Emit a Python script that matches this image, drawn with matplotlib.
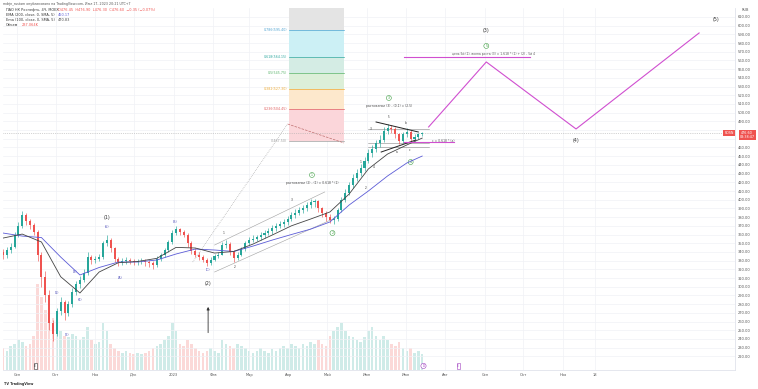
import numpy as np
import pandas as pd
import matplotlib
matplotlib.use("Agg")
import matplotlib.pyplot as plt
import matplotlib.dates as mdates

# ---- candles: 3-day bars from 2022-08-21 ----
start_date = "2022-08-21"
bar_days = 3
first_open = 340
closes = [336, 342, 346, 360, 370, 382, 375, 371, 363, 336,
          311, 290, 258, 246, 272, 282, 270, 280, 294, 303,
          308, 316, 334, 331, 332, 334, 350, 354, 344, 332,
          328, 329, 331, 329, 328, 329, 330, 328, 327, 325,
          332, 336, 342, 351, 362, 366, 363, 360, 350, 341,
          337, 334, 331, 327, 331, 335, 337, 348, 349, 340,
          333, 337, 343, 350, 354, 355, 357, 359, 362, 364,
          367, 370, 372, 374, 378, 382, 385, 388, 390, 394,
          397, 398, 390, 385, 380, 377, 378, 388, 400, 408,
          417, 425, 431, 436, 445, 454, 458, 465, 469, 479,
          482, 481, 475, 467, 475, 478, 470, 472, 475, 476.6]
highs = [343, 346, 350, 363, 374, 387, 385, 378, 373, 365,
         340, 318, 296, 262, 276, 288, 285, 284, 298, 307,
         312, 320, 340, 337, 335, 338, 353, 360, 356, 346,
         334, 333, 334, 333, 332, 332, 333, 332, 331, 329,
         335, 339, 345, 354, 365, 370, 368, 365, 362, 352,
         344, 340, 336, 333, 334, 338, 340, 351, 354, 351,
         342, 340, 346, 352, 357, 359, 360, 363, 365, 368,
         371, 373, 376, 378, 381, 386, 389, 392, 394, 397,
         401, 401, 400, 392, 387, 383, 381, 391, 403, 412,
         420, 429, 435, 441, 449, 458, 463, 469, 474, 483,
         487, 486, 483, 477, 478, 482, 480, 475, 477, 478]
lows = [332, 333, 339, 344, 357, 368, 371, 366, 359, 330,
        300, 282, 250, 238, 243, 268, 262, 266, 277, 290,
        299, 305, 314, 326, 327, 329, 332, 347, 340, 328,
        324, 325, 326, 326, 325, 325, 326, 324, 323, 320,
        323, 330, 334, 340, 349, 359, 360, 357, 346, 338,
        334, 331, 328, 324, 325, 329, 333, 336, 345, 337,
        328, 331, 335, 341, 348, 351, 352, 354, 356, 359,
        361, 364, 367, 369, 371, 375, 379, 382, 385, 387,
        391, 392, 386, 380, 376, 373, 372, 376, 386, 397,
        405, 414, 421, 427, 433, 442, 449, 455, 460, 466,
        476, 477, 471, 464, 465, 472, 467, 468, 470, 473]
volumes = [25, 22, 28, 30, 35, 32, 28, 30, 40, 100,
           85, 70, 75, 60, 55, 45, 40, 38, 42, 40,
           35, 38, 50, 35, 30, 32, 55, 45, 30, 25,
           22, 20, 22, 20, 18, 20, 18, 20, 22, 25,
           28, 30, 35, 40, 55, 45, 30, 28, 35, 30,
           25, 22, 20, 22, 25, 22, 20, 35, 30, 28,
           25, 30, 28, 25, 22, 20, 22, 25, 22, 20,
           24, 22, 25, 28, 25, 30, 28, 25, 30, 28,
           32, 30, 35, 30, 28, 40, 45, 50, 55, 45,
           40, 38, 35, 32, 38, 45, 50, 40, 35, 40,
           35, 30, 28, 32, 25, 22, 25, 20, 22, 18]

# moving averages, read every 5 bars
ma_bars = [0, 5, 10, 15, 20, 25, 30, 35, 40, 45, 50, 55, 60, 65, 70,
           75, 80, 85, 90, 95, 100, 105, 109]
ema200 = [361.7, 358.2, 356.5, 334.1, 313.5, 322.1, 328.4, 328.4, 330.7, 337.6,
          343.3, 342.2, 340.5, 346.7, 353.6, 360.0, 366.2, 374.4, 393.9, 410.0,
          427.3, 442.2, 450.17]
ema100 = [355.9, 360.5, 351.4, 311.5, 292.8, 316.9, 327.6, 329.0, 332.6, 345.2,
          344.5, 338.7, 340.5, 349.0, 359.4, 370.0, 377.8, 385.9, 406.5, 435.3,
          452.5, 462.9, 470.83]

# fibonacci retracement
fib_start, fib_end = "2023-04-01", "2023-05-14"
fib_ratios = ["1", "0.786", "0.618", "0.5", "0.382", "0.236", "0"]
fib_prices = [625.0, 595.40, 564.15, 545.75, 527.30, 504.45, 467.50]
fib_fills = ["#e4e4e4", "#ccf0f5", "#d4ece4", "#dcefd8", "#fde8cc", "#fbd6da"]
fib_lines = ["#9e9e9e", "#4fa3d1", "#2fa8a0", "#58b36a", "#eeaa33", "#e06060", "#9e9e9e"]

# projection (magenta)
proj_dates = ["2023-07-19", "2023-09-02", "2023-11-11", "2024-02-15"]
proj_prices = [483.6, 558.3, 481.3, 591.6]
target_dates = ["2023-06-30", "2023-10-06"]
target_price = 564.0

last_price = 476.6

month_ticks = ["2022-09-01", "2022-10-01", "2022-11-01", "2022-12-01", "2023-01-01",
               "2023-02-01", "2023-03-01", "2023-04-01", "2023-05-01", "2023-06-01",
               "2023-07-01", "2023-08-01", "2023-09-01", "2023-10-01", "2023-11-01",
               "2023-11-26"]
month_labels = ["Сен", "Окт", "Ноя", "Дек", "2023", "Фев", "Мар", "Апр", "Май", "Июн",
                "Июл", "Авг", "Сен", "Окт", "Ноя", "18"]

UP = "#26a69a"
DOWN = "#ef5350"
D = mdates.datestr2num

fig = plt.figure(figsize=(7.58, 3.89), dpi=100)
ax = fig.add_axes([3 / 758, 1 - 370 / 389, 732 / 758, 362 / 389])
vax = ax.twinx()
ax.set_zorder(vax.get_zorder() + 1)
ax.patch.set_visible(False)

n = len(closes)
dates = pd.date_range(start_date, periods=n, freq="%dD" % bar_days)
x = mdates.date2num(dates.to_pydatetime())
opens = np.array([first_open] + closes[:-1])
closes_a = np.array(closes)
up = closes_a >= opens
colors = np.where(up, UP, DOWN)

# volume
vax.bar(x, volumes, width=2.0, color=colors, alpha=0.22, linewidth=0)
vax.set_ylim(0, 420)
vax.set_yticks([])
for s in vax.spines.values():
    s.set_visible(False)

# candles
ax.vlines(x, lows, highs, colors=colors, linewidth=0.45, zorder=3)
body_lo = np.minimum(opens, closes_a)
body_h = np.maximum(np.abs(closes_a - opens), 0.6)
ax.bar(x, body_h, bottom=body_lo, width=1.6, color=colors, linewidth=0, zorder=3)

# EMAs
ax.plot(x[ma_bars], ema200, color="#5b5bd6", lw=0.6, zorder=4)
ax.plot(x[ma_bars], ema100, color="#444444", lw=0.6, zorder=4)

# fibonacci block
fx = [D(fib_start), D(fib_end)]
for i in range(len(fib_fills)):
    ax.fill_between(fx, fib_prices[i + 1], fib_prices[i], color=fib_fills[i], lw=0, zorder=1)
for i in range(1, len(fib_prices)):
    ax.plot(fx, [fib_prices[i]] * 2, color=fib_lines[i], lw=0.5, zorder=2)
    ax.text(fx[0] - 1.5, fib_prices[i], "%s(%.2f)" % (fib_ratios[i], fib_prices[i]),
            ha="right", va="center", fontsize=2.3, color=fib_lines[i])
ax.plot([D("2023-01-16"), D("2023-03-31")], [328.4, 487.0], color="#9e9e9e", lw=0.5, ls=":", zorder=2)
ax.plot([D("2023-03-31"), D("2023-05-14")], [487.0, 465.2], color="#c07070", lw=0.5, ls="--", zorder=2)

# channel
ax.plot([D("2023-02-02"), D("2023-04-29")], [347.9, 408.9], color="#a0a0a0", lw=0.4, zorder=2)
ax.plot([D("2023-02-02"), D("2023-05-07")], [316.9, 378.9], color="#a0a0a0", lw=0.4, zorder=2)

# triangle
ax.plot([D("2023-06-08"), D("2023-07-11")], [489.3, 477.8], color="#222222", lw=0.7, zorder=5)
ax.plot([D("2023-06-12"), D("2023-07-09")], [454.8, 468.6], color="#222222", lw=0.7, zorder=5)
for lvl in [481.3, 465.2, 460.6]:
    ax.plot([D("2023-06-02"), D("2023-07-19")], [lvl, lvl], color="#888888", lw=0.4, zorder=2)
ax.plot([D("2023-06-30"), D("2023-08-08")], [466.3, 466.3], color="#d04fd0", lw=0.8, zorder=5)
ax.text(D("2023-07-22"), 467.5, "c = 0.618 * (a)", fontsize=2.2, color="#555555", ha="left", va="center")

# projection
ax.plot([D(d) for d in proj_dates], proj_prices, color="#d04fd0", lw=0.8, zorder=5)
ax.plot([D(d) for d in target_dates], [target_price] * 2, color="#d04fd0", lw=0.8, zorder=5)
ax.text(D("2023-09-08"), target_price + 1.5, "цель 5й (1), волна роста (3) = 1.618 * (1) + (2) - 5й 4",
        fontsize=2.2, color="#555555", ha="center", va="bottom")

# current price line
ax.axhline(last_price, color="#aaaaaa", lw=0.5, ls=":", zorder=2)

# wave labels
big = [("2022-11-10", 380, "(1)"), ("2023-01-28", 304, "(2)"), ("2023-09-02", 594, "(3)"),
       ("2023-11-11", 467.5, "(4)"), ("2024-02-28", 606.6, "(5)")]
for d, p, t in big:
    ax.text(D(d), p, t, fontsize=3.4, color="#333333", ha="center", va="center")
small = [("2022-10-02", 293, "(1)"), ("2022-10-10", 245, "(2)"), ("2022-10-16", 317, "(3)"),
         ("2022-10-20", 285, "(4)"), ("2022-11-10", 368.6, "(5)"), ("2022-11-20", 310, "(A)"),
         ("2023-01-02", 374.4, "(B)"), ("2023-01-28", 319, "(C)")]
for d, p, t in small:
    ax.text(D(d), p, t, fontsize=2.3, color="#4a4ab8", ha="center", va="center")
minor = [("2023-02-09", 362, "1"), ("2023-02-18", 322.6, "2"), ("2023-04-03", 399.7, "3"),
         ("2023-05-27", 443, "1"), ("2023-05-31", 413, "2"), ("2023-06-04", 481.3, "3"),
         ("2023-06-06", 438, "4"), ("2023-06-18", 495, "5"), ("2023-06-24", 455, "a"),
         ("2023-07-01", 488.2, "b"), ("2023-07-04", 457.1, "c")]
for d, p, t in minor:
    ax.text(D(d), p, t, fontsize=2.1, color="#333333", ha="center", va="center")
circ = [("2023-04-19", 428.4, "1"), ("2023-05-05", 361.7, "2"), ("2023-06-18", 516.9, "3"),
        ("2023-07-05", 443.3, "4"), ("2023-09-02", 576.7, "5")]
for d, p, t in circ:
    ax.text(D(d), p, t, fontsize=2.3, color="#43a047", ha="center", va="center",
            bbox=dict(boxstyle="circle,pad=0.15", fc="white", ec="#43a047", lw=0.4))
ax.text(D("2023-04-19"), 419.2, "растяжение (2) - (1) = 0.618 * (1)", fontsize=2.2,
        color="#444444", ha="center", va="center")
ax.text(D("2023-06-18"), 507.7, "растяжение (3) - (0.1) = (2.5)", fontsize=2.2,
        color="#444444", ha="center", va="center")

ax.annotate("", xy=(D("2023-01-28"), 280), xytext=(D("2023-01-28"), 244),
            arrowprops=dict(arrowstyle="-|>", color="#333333", lw=0.6, mutation_scale=4))

# event markers
ax.text(D("2022-09-15"), 209, "E", fontsize=2.2, color="#333333", ha="center", va="center",
        bbox=dict(boxstyle="square,pad=0.2", fc="white", ec="#333333", lw=0.4))
ax.text(D("2023-07-15"), 209, "D", fontsize=2.2, color="#a040c0", ha="center", va="center",
        bbox=dict(boxstyle="circle,pad=0.2", fc="white", ec="#a040c0", lw=0.4))
ax.text(D("2023-08-11"), 209, "E", fontsize=2.2, color="#a040c0", ha="center", va="center",
        bbox=dict(boxstyle="square,pad=0.2", fc="white", ec="#a040c0", lw=0.4))

# axes styling
yt = np.arange(220, 611, 10)
ax.set_xlim(D("2022-08-21"), D("2024-03-14"))
ax.set_ylim(204.3, 620.3)
ax.yaxis.tick_right()
ax.set_yticks(yt)
# labels under the price tag are hidden, as on the screen
ax.set_yticklabels(["" if v in (470, 480) else "%.2f" % v for v in yt])
ax.set_xticks([D(t) for t in month_ticks])
ax.set_xticklabels(month_labels)
ax.tick_params(axis="both", labelsize=2.6, length=0, pad=2, colors="#555555")
ax.grid(color="#f0f2f6", lw=0.5)
ax.set_axisbelow(True)
for s in ["top", "left"]:
    ax.spines[s].set_visible(False)
for s in ["right", "bottom"]:
    ax.spines[s].set_color("#e0e3eb")
    ax.spines[s].set_linewidth(0.6)


def ftxt(px, py, s, **kw):
    fig.text(px / 758, 1 - py / 389, s, **kw)


ftxt(3, 4, "mdrjn_rustam опубликовано на TradingView.com, Июл 17, 2023 20:21 UTC+7",
     fontsize=2.3, color="#555555", va="center")
ftxt(6, 10, "ПАО НК Роснефть, 4Ч, MOEX", fontsize=2.5, color="#333333", va="center")
ftxt(58, 10, "O476.45  H476.90  L476.30  C476.60  −0.35 (−0.07%)", fontsize=2.5, color=DOWN, va="center")
ftxt(6, 15, "EMA (200, close, 0, SMA, 5)", fontsize=2.5, color="#333333", va="center")
ftxt(58, 15, "450.17", fontsize=2.5, color="#5b5bd6", va="center")
ftxt(6, 20, "Ema (100, close, 0, SMA, 5)", fontsize=2.5, color="#333333", va="center")
ftxt(58, 20, "470.83", fontsize=2.5, color="#444444", va="center")
ftxt(6, 24.5, "Объем", fontsize=2.5, color="#333333", va="center")
ftxt(22, 24.5, "237.064K", fontsize=2.5, color=DOWN, va="center")
ftxt(745, 10, "RUB", fontsize=2.5, color="#555555", va="center", ha="center")
ftxt(747, 135, "476.60\n03:38:47", fontsize=2.4, color="white", va="center", ha="center",
     linespacing=1.1, bbox=dict(boxstyle="square,pad=0.3", fc=DOWN, ec="none"))
ftxt(729, 133, "ROSN", fontsize=2.3, color="white", va="center", ha="center",
     bbox=dict(boxstyle="square,pad=0.3", fc=DOWN, ec="none"))
ftxt(4, 384, "TV TradingView", fontsize=2.4, color="#333333", va="center", fontweight="bold")

fig.savefig("out.png", dpi=100, facecolor="white")
